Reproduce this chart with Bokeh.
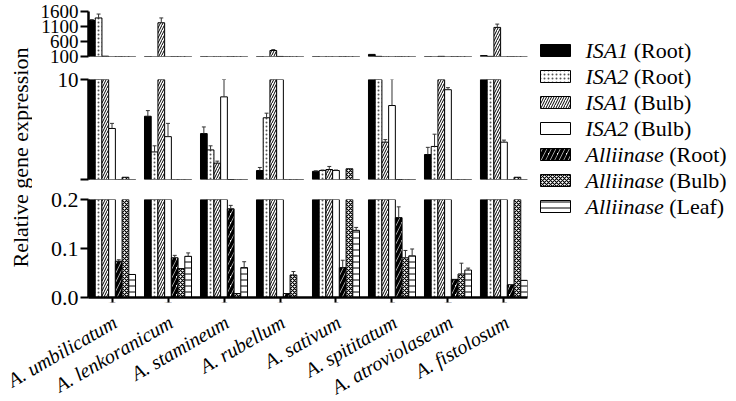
import numpy as np
from bokeh.plotting import figure
from bokeh.models import ColumnDataSource, FactorRange, Range1d, FixedTicker, PrintfTickFormatter
from bokeh.transform import dodge
from bokeh.layouts import row, column
from bokeh.embed import file_html
from bokeh.resources import INLINE
from bokeh.core.properties import value

nan = np.nan

# ---------------- data ----------------
species = ["A. umbilicatum", "A. lenkoranicum", "A. stamineum", "A. rubellum",
           "A. sativum", "A. spititatum", "A. atroviolaseum", "A. fistolosum"]

series_genes = ["ISA1", "ISA2", "ISA1", "ISA2", "Alliinase", "Alliinase", "Alliinase"]
series_tissues = ["(Root)", "(Root)", "(Bulb)", "(Bulb)", "(Root)", "(Bulb)", "(Leaf)"]

isa1_root     = [1300, 6.4, 4.7, 1.08, 1.00, 170, 2.65, 130]
isa1_root_err = [30, 0.55, 0.65, 0.3, 0.05, nan, 0.7, nan]
isa2_root     = [1385, 2.9, 3.1, 6.25, 1.08, 105, 3.44, 105]
isa2_root_err = [130, 0.6, 0.4, 0.45, 0.05, nan, 1.2, nan]
isa1_bulb     = [110, 1225, 1.8, 300, 1.18, 3.86, 105, 1070]
isa1_bulb_err = [nan, 160, 0.2, 30, 0.3, 0.25, nan, 110]
isa2_bulb     = [5.2, 4.4, 8.3, 102, 1.08, 7.45, 9.0, 3.86]
isa2_bulb_err = [0.5, 1.3, 1.7, nan, 0.05, 2.6, 0.2, 0.2]
alli_root     = [0.074, 0.081, 0.181, 0.008, 0.061, 0.163, 0.037, 0.026]
alli_root_err = [0.003, 0.005, 0.007, nan, 0.015, 0.022, nan, nan]
alli_bulb     = [0.42, 0.059, 0.008, 0.046, 1.25, 0.081, 0.048, 0.42]
alli_bulb_err = [nan, nan, nan, 0.007, nan, 0.015, 0.022, nan]
alli_leaf     = [0.047, 0.084, 0.061, 0.0, 0.137, 0.085, 0.056, 0.035]
alli_leaf_err = [nan, 0.007, 0.012, nan, 0.006, 0.014, 0.004, nan]

top_ticks = [100, 600, 1100, 1600]
mid_ticks = [0.2, 10]
bot_ticks = [0.0, 0.1, 0.2]

values = [isa1_root, isa2_root, isa1_bulb, isa2_bulb, alli_root, alli_bulb, alli_leaf]
errors = [isa1_root_err, isa2_root_err, isa1_bulb_err, isa2_bulb_err,
          alli_root_err, alli_bulb_err, alli_leaf_err]

keys = ["s%d" % j for j in range(7)]
data = {"species": species}
for k, v, e in zip(keys, values, errors):
    data[k] = np.array(v, dtype=float)
    data[k + "_up"] = np.array(v, dtype=float) + np.array(e, dtype=float)
src = ColumnDataSource(data)

# ---------------- styles ----------------
FONT = "'Liberation Serif', 'Times New Roman', serif"
FS = "22px"
styles = [
    dict(fill_color="black"),
    dict(fill_color="white", hatch_pattern="dot", hatch_scale=4, hatch_weight=1, hatch_color="#555555"),
    dict(fill_color="white", hatch_pattern="right_diagonal_line", hatch_scale=5, hatch_weight=1, hatch_color="black"),
    dict(fill_color="white"),
    dict(fill_color="white", hatch_pattern="right_diagonal_line", hatch_scale=9, hatch_weight=3.5, hatch_color="black"),
    dict(fill_color="white", hatch_pattern="diagonal_cross", hatch_scale=4, hatch_weight=1.2, hatch_color="black"),
    dict(fill_color="white", hatch_pattern="horizontal_line", hatch_scale=6, hatch_weight=1, hatch_color="black"),
]

x_range = FactorRange(factors=species, range_padding=-0.08, range_padding_units="absolute")
BAR_W = 0.12
CAP = 0.035
offsets = [(j - 3) * BAR_W for j in range(7)]

TOTAL_W = 736
FRAME_W = 439
YW = 32
BL, BR = 56, 3
PANEL_W = BL + FRAME_W + BR
LW = TOTAL_W - YW - PANEL_W


def style_yaxis(ya, ticks, fs, overrides=None, fmt=None):
    ya.ticker = FixedTicker(ticks=ticks)
    if overrides:
        ya.major_label_overrides = overrides
    if fmt:
        ya.formatter = fmt
    ya.axis_line_width = 2.5
    ya.axis_line_color = "black"
    ya.major_tick_out = 8
    ya.major_tick_in = 0
    ya.major_tick_line_width = 2
    ya.minor_tick_line_color = None
    ya.major_label_standoff = 2
    ya.major_label_text_font = FONT
    ya.major_label_text_font_size = fs
    ya.major_label_text_color = "black"


def make_panel(frame_h, y_start, y_end, ticks, b_top, b_bottom, fs, overrides=None, fmt=None,
               with_x=False):
    p = figure(frame_width=FRAME_W, frame_height=frame_h, x_range=x_range,
               y_range=Range1d(y_start, y_end),
               x_axis_location="below" if with_x else None,
               output_backend="svg", toolbar_location=None,
               min_border_left=BL, min_border_right=BR,
               min_border_top=b_top, min_border_bottom=b_bottom)
    for j in range(7):
        xs = dodge("species", offsets[j], range=x_range)
        p.vbar(x=xs, top=keys[j], bottom=0, width=BAR_W, source=src,
               line_color="black", line_width=1, **styles[j])
        p.segment(x0=xs, y0=keys[j], x1=xs, y1=keys[j] + "_up", source=src,
                  line_color="#333333", line_width=1)
        p.segment(x0=dodge("species", offsets[j] - CAP, range=x_range), y0=keys[j] + "_up",
                  x1=dodge("species", offsets[j] + CAP, range=x_range), y1=keys[j] + "_up",
                  source=src, line_color="#333333", line_width=1)
    p.grid.visible = False
    p.outline_line_color = None
    p.background_fill_color = "white"
    style_yaxis(p.yaxis[0], ticks, fs, overrides, fmt)
    if with_x:
        xa = p.xaxis[0]
        xa.axis_line_width = 2.5
        xa.axis_line_color = "black"
        xa.major_tick_out = 5
        xa.major_tick_in = 0
        xa.major_tick_line_width = 2
        xa.minor_tick_line_color = None
        xa.major_label_standoff = 0
        xa.major_label_overrides = {s: "" for s in species}
        xa.major_label_text_font_size = "1px"
    return p


# page rows (page has no margin): top canvas 0-68, mid 68-186, bottom 186-310, label strip 310-
p_top = make_panel(45, 100, 1600, top_ticks, 11, 12, "19px")
p_mid = make_panel(100, 0.2, 10, mid_ticks, 11, 7, "21px", overrides={0.2: "", 10: "10"})
p_bot = make_panel(98, 0, 0.2, bot_ticks, 13, 13, FS, fmt=PrintfTickFormatter(format="%.1f"),
                   with_x=True)
UPPER_H = 68 + 118 + 124

# category labels on their own strip (same x range) so long labels can reach the left edge
p_axis = figure(frame_width=FRAME_W, frame_height=1, x_range=x_range, y_range=Range1d(0, 1),
                y_axis_location=None, output_backend="svg", toolbar_location=None,
                min_border_left=YW + BL + 3, min_border_right=BR + LW - 3,
                min_border_top=0, min_border_bottom=60)
p_axis.grid.visible = False
p_axis.outline_line_color = None
xa = p_axis.xaxis[0]
xa.axis_line_color = None
xa.major_tick_line_color = None
xa.major_tick_out = 0
xa.major_tick_in = 0
xa.minor_tick_line_color = None
xa.major_label_orientation = np.pi / 6
xa.major_label_standoff = 9
xa.major_label_text_font = FONT
xa.major_label_text_font_style = "italic"
xa.major_label_text_font_size = "20px"
xa.major_label_text_color = "black"

# ---------------- y label ----------------
ylab = figure(width=YW, height=UPPER_H, x_range=Range1d(0, YW), y_range=Range1d(0, UPPER_H),
              output_backend="svg", toolbar_location=None, min_border=0,
              x_axis_location=None, y_axis_location=None)
ylab.grid.visible = False
ylab.outline_line_color = None
# text starts (bottom end) at page y ~267 and runs upward
ylab.text(x=[20], y=[UPPER_H - 267], text=["Relative gene expression"], angle=np.pi / 2,
          text_align="left", text_baseline="middle", text_font=value(FONT),
          text_font_size=FS, text_color="black")

# ---------------- legend ----------------
leg = figure(width=LW, height=UPPER_H, x_range=Range1d(0, LW), y_range=Range1d(0, UPPER_H),
             output_backend="svg", toolbar_location=None, min_border=0,
             x_axis_location=None, y_axis_location=None)
leg.grid.visible = False
leg.outline_line_color = None

italic_w = {"I": 333, "S": 500, "A": 611, "1": 500, "2": 500, "l": 278, "i": 278,
            "n": 500, "a": 500, "s": 389, "e": 444}
fs_px = 22
for i in range(7):
    yc = UPPER_H - (50 + 26 * i)
    leg.quad(left=[10], right=[40], bottom=[yc - 6], top=[yc + 6],
             line_color="black", line_width=1, **styles[i])
    gene = series_genes[i]
    gw = sum(italic_w.get(c, 500) for c in gene) / 1000.0 * fs_px
    leg.text(x=[55], y=[yc], text=[gene], text_font=value(FONT), text_font_style="italic",
             text_font_size=FS, text_baseline="middle", text_color="black")
    leg.text(x=[55 + gw + 5.5], y=[yc], text=[series_tissues[i]], text_font=value(FONT),
             text_font_size=FS, text_baseline="middle", text_color="black")

layout = column(row(ylab, column(p_top, p_mid, p_bot), leg), p_axis)

with open("out.html", "w") as f:
    f.write(file_html(layout, INLINE))
